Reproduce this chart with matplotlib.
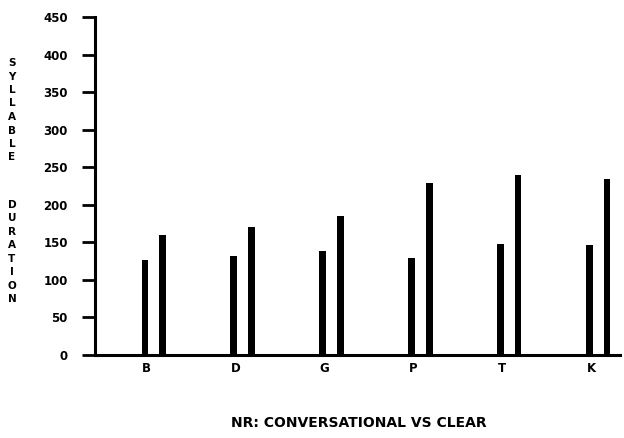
import matplotlib
matplotlib.use("Agg")
import matplotlib.pyplot as plt
import numpy as np

categories = ["B", "D", "G", "P", "T", "K"]
conversational = [126, 132, 138, 129, 148, 146]
clear = [160, 170, 185, 229, 240, 234]
yticks = [0, 50, 100, 150, 200, 250, 300, 350, 400, 450]
ylabel_text = "SYLLABLE DURATION"
xlabel_text = "NR: CONVERSATIONAL VS CLEAR"

plt.rcParams['font.family'] = ['DejaVu Sans']
fig = plt.figure(figsize=(6.24, 4.38), dpi=100)
ax = fig.add_axes([0.152, 0.1895, 0.842, 0.7715])

x = np.arange(len(categories))
off = 0.1
w = 0.075
ax.bar(x - off, conversational, width=w, color='black')
ax.bar(x + off, clear, width=w, color='black')

ax.set_xlim(-0.663, 5.249)
ax.set_ylim(0, 450)
ax.set_yticks(yticks)
ax.set_yticklabels([str(v) for v in yticks], fontsize=8.5, fontweight='bold')
ax.set_xticks(x - 0.08)
ax.set_xticklabels(categories, fontsize=8.5, fontweight='bold')
ax.tick_params(axis='y', length=9.5, width=2, pad=10, direction='out')
ax.tick_params(axis='x', length=0, pad=5)

for s in ['top', 'right']:
    ax.spines[s].set_visible(False)
for s in ['left', 'bottom']:
    ax.spines[s].set_linewidth(2.2)

# vertical stacked y label
letters = list(ylabel_text)
y0 = 63
step = 13.5
for i, ch in enumerate(letters):
    if ch == ' ':
        continue
    ypx = y0 + i * step + (1.5 * step if i > 8 else 0)
    fig.text(12 / 624, 1 - ypx / 438, ch, fontsize=7.5, fontweight='bold',
             ha='center', va='center')

fig.text(359 / 624, 1 - 423 / 438, xlabel_text, fontsize=10, fontweight='bold',
         ha='center', va='center')

fig.savefig("out.png", dpi=100)
